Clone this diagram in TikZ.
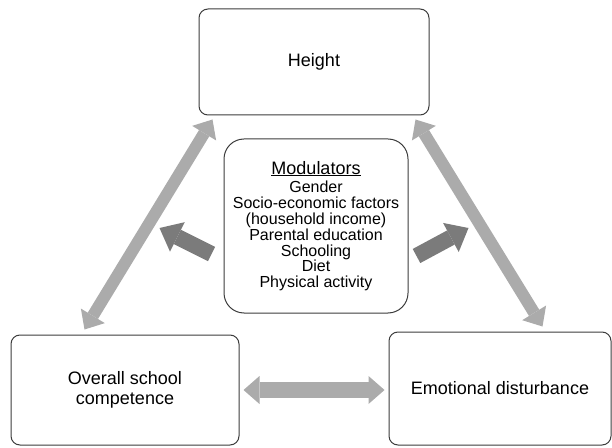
\documentclass[tikz,border=0pt]{standalone}
\usepackage{fontspec}
\setmainfont{Liberation Sans}
\usetikzlibrary{arrows.meta}
\definecolor{linkgray}{HTML}{ABABAB}
\definecolor{pushgray}{HTML}{7B7B7B}
\definecolor{boxline}{HTML}{3C3C3C}
\begin{document}
\begin{tikzpicture}[x=1pt, y=1pt,
box/.style={draw=boxline, line width=1pt, rounded corners=9pt, align=center, inner sep=0pt, font=\fontsize{18}{20}\selectfont},
link/.style={draw=linkgray, line width=12pt, {Triangle[width=28pt,length=16pt,line width=0pt]}-{Triangle[width=28pt,length=16pt,line width=0pt]}},
push/.style={draw=pushgray, line width=16pt, -{Triangle[width=33pt,length=20pt,line width=0pt]}}]
\useasboundingbox (0,0) rectangle (612,447);
\node[box, minimum width=230pt, minimum height=106pt] (height) at (314,385) {Height};
\node[box, minimum width=184pt, minimum height=174pt, rounded corners=20pt,
    font=\fontsize{16}{15.8}\selectfont] (mod) at (316,221)
    {{\fontsize{18}{18}\selectfont\underline{Modulators}}\\[3pt]
     Gender\\ Socio-economic factors\\ (household income)\\ Parental education\\
     Schooling\\ Diet\\ Physical activity};
\node[box, minimum width=228pt, minimum height=110pt] (school) at (125,57) {Overall school\\competence};
\node[box, minimum width=222pt, minimum height=113pt] (emo) at (500,58.5) {Emotional disturbance};
\draw[link] ([shift={(74,5)}]school.north west) -- ([shift={(14,-4)}]height.south west);
\draw[link] ([shift={(-14,-4)}]height.south east) -- ([shift={(-69,5)}]emo.north east);
\draw[link, line width=16pt] ([xshift=4pt]school.east) -- ([xshift=-4pt]school.east -| emo.west);
\draw[push] ([shift={(-12,-28)}]mod.west) -- ([shift={(-64,-2)}]mod.west);
\draw[push] ([shift={(8,-30)}]mod.east) -- ([shift={(60,-2)}]mod.east);
\end{tikzpicture}
\end{document}
